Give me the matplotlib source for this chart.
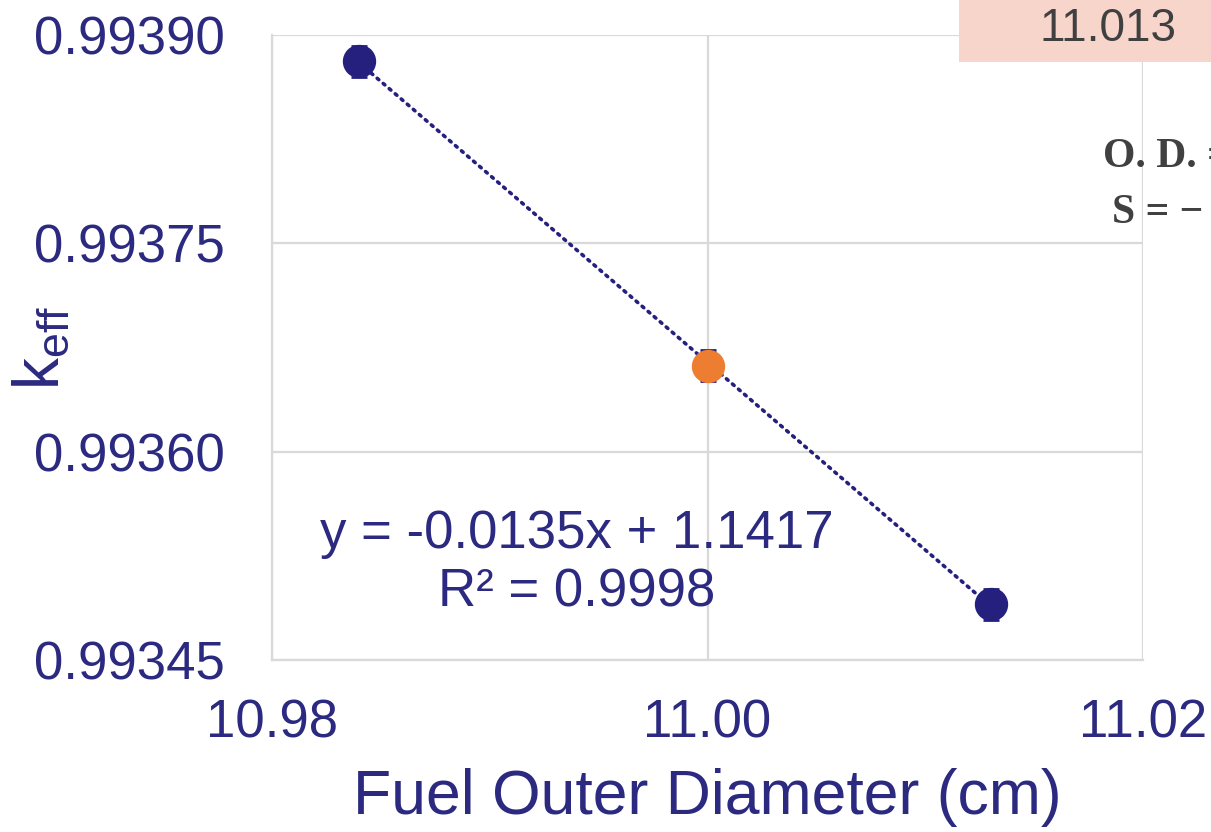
import matplotlib.pyplot as plt
import numpy as np

# data
diameters = [10.984, 11.000, 11.013]
keff = [0.993881, 0.993662, 0.993490]
keff_err = [0.000011, 0.000011, 0.000011]
point_colors = ['#25207E', '#ED7D31', '#25207E']

x_ticks = [10.98, 11.00, 11.02]
y_ticks = [0.99345, 0.99360, 0.99375, 0.99390]

# trendline label as printed on the chart
eq_slope = -0.0135
eq_intercept = 1.1417
eq_r2 = 0.9998

navy = '#25207E'
text_navy = '#2B2A80'
grid_col = '#D9D9D9'

plt.rcParams['font.family'] = ['Liberation Sans', 'DejaVu Sans']

fig = plt.figure(figsize=(12.11, 8.32), dpi=100)
ax = fig.add_axes([272/1211, 172/832, 871/1211, 625/832])

# trendline
slope, intercept = np.polyfit(diameters, keff, 1)
xs = np.array([min(diameters), max(diameters)])
ax.plot(xs, slope * xs + intercept, linestyle=(0, (0.6, 1.6)), color=navy,
        lw=2.6, dash_capstyle='round', zorder=3)

for x, y, e, c in zip(diameters, keff, keff_err, point_colors):
    ax.errorbar(x, y, yerr=e, fmt='none', ecolor=navy, elinewidth=2, capsize=6,
                capthick=2, zorder=2)
    ax.plot(x, y, 'o', color=c, markersize=23, zorder=4)

ax.set_xlim(10.98, 11.02)
ax.set_ylim(0.99345, 0.99390)
ax.set_xticks(x_ticks)
ax.set_xticklabels([f'{v:.2f}' for v in x_ticks])
ax.set_yticks(y_ticks)
ax.set_yticklabels([f'{v:.5f}' for v in y_ticks])
ax.tick_params(length=0, labelsize=38, labelcolor=text_navy)
ax.tick_params(axis='x', pad=28)
ax.tick_params(axis='y', pad=34)
ax.grid(True, color=grid_col, lw=1.6, zorder=0)
for side in ['top', 'right']:
    ax.spines[side].set_visible(False)
for side in ['left', 'bottom']:
    ax.spines[side].set_color(grid_col)
    ax.spines[side].set_linewidth(1.6)

ax.set_xlabel('Fuel Outer Diameter (cm)', fontsize=45, color=text_navy, labelpad=14)
ax.set_ylabel(r'k$_\mathregular{eff}$', fontsize=46, color=text_navy,
              va='center', ha='center')
ax.yaxis.set_label_coords(-0.265, 0.5)

ax.text(0.350, 0.155, f'y = {eq_slope}x + {eq_intercept}\nR\u00b2 = {eq_r2}',
        transform=ax.transAxes, ha='center', va='center', fontsize=38,
        color=text_navy, linespacing=1.2)

# pieces of the neighbouring table cut off at the right edge
fig.patches.append(plt.Rectangle((959/1211, 1 - 62/832), 1, 62/832,
                                 transform=fig.transFigure, facecolor='#F8D5CB',
                                 edgecolor='none', zorder=5))
fig.text(1108/1211, 1 - 29/832, '11.013', ha='center', va='center', fontsize=33,
         color='#404040', zorder=6)
fig.text(1103/1211, 1 - 157/832, 'O. D. =', ha='left', va='center',
         fontsize=30, color='#404040', family='Liberation Serif', fontweight='bold')
fig.text(1112/1211, 1 - 213/832, 'S = \u2212', ha='left', va='center',
         fontsize=30, color='#404040', family='Liberation Serif', fontweight='bold')

fig.savefig('out.png', dpi=100)
